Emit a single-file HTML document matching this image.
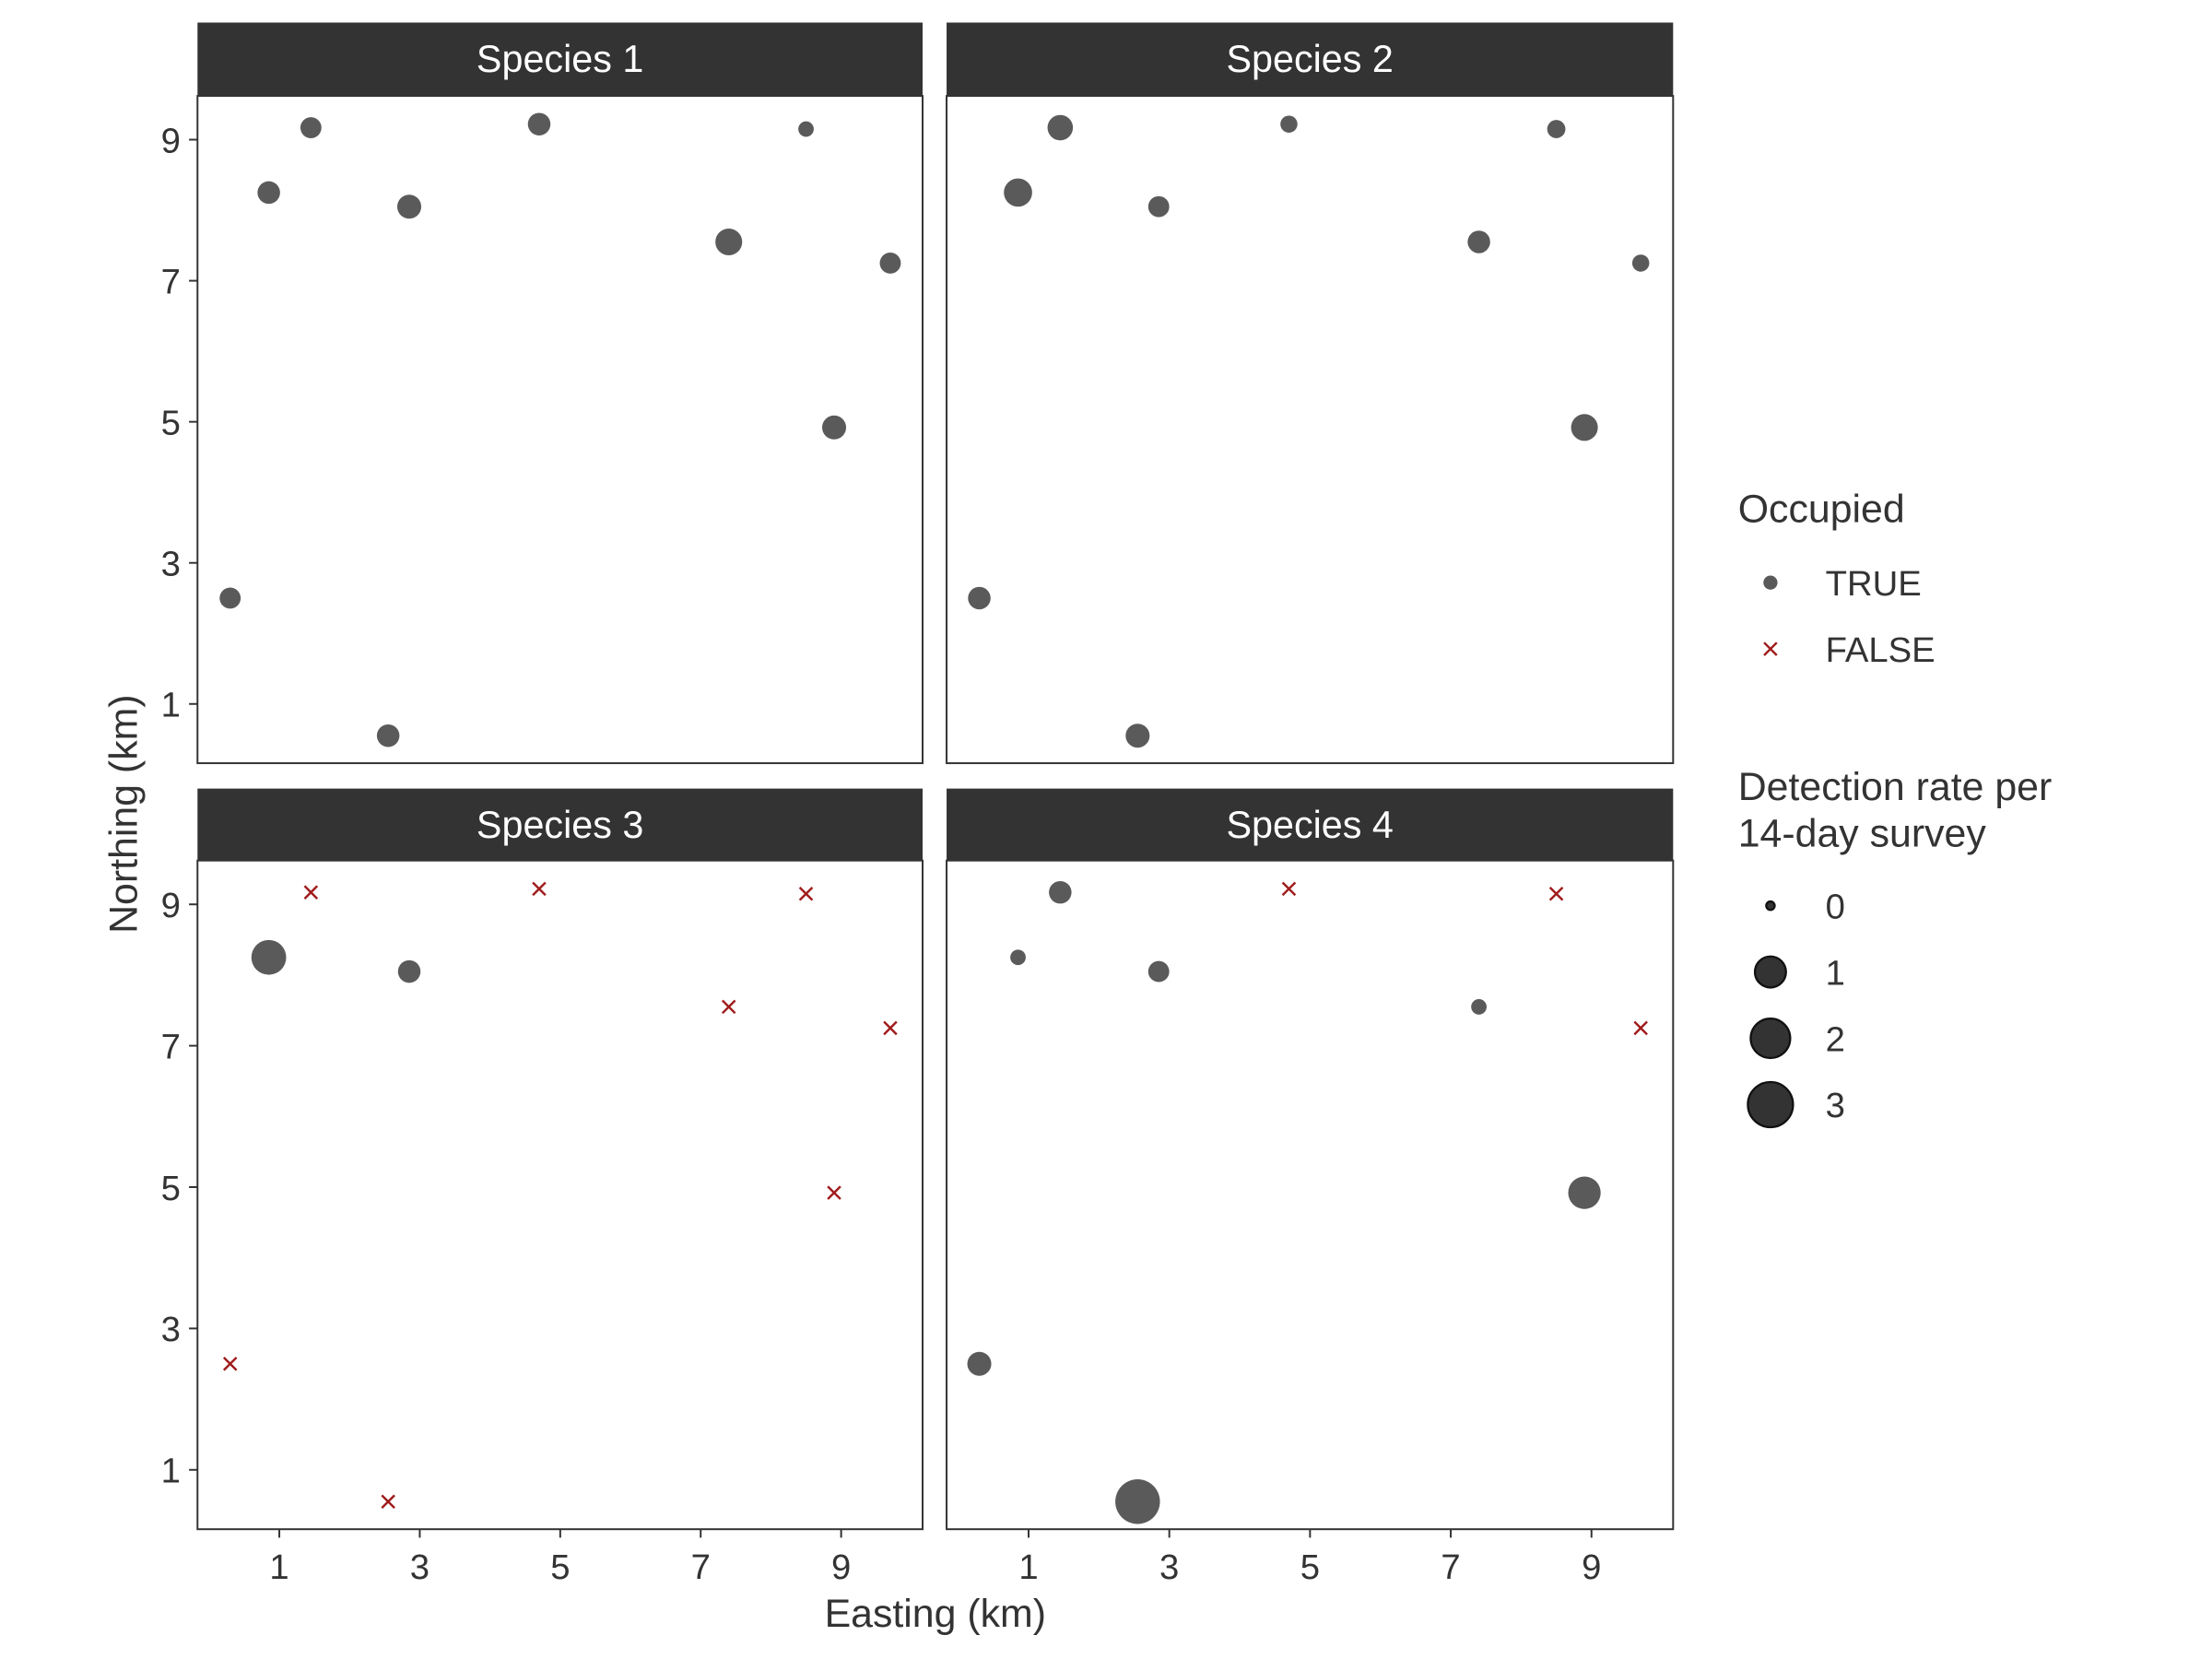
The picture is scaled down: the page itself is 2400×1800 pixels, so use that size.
<!DOCTYPE html>
<html><head><meta charset="utf-8"><style>
html,body{margin:0;padding:0;background:#fff}
svg{display:block}
text{font-family:"Liberation Sans Narrow","Liberation Sans",sans-serif}
</style></head><body>
<svg id="chart" width="2400" height="1800" viewBox="0 0 1568 1176" xmlns="http://www.w3.org/2000/svg">
<g id="root"></g>
</svg>
<script>
// ---- data ----
const easting = [0.3, 0.85, 1.45, 2.55, 2.85, 4.7, 7.4, 8.5, 8.9, 9.7];
const northing = [2.5, 8.25, 9.17, 0.55, 8.05, 9.22, 7.55, 9.15, 4.92, 7.25];
const speciesNames = ["Species 1", "Species 2", "Species 3", "Species 4"];
const rateSp1 = [0.31, 0.375, 0.31, 0.375, 0.44, 0.375, 0.58, 0.11, 0.44, 0.31];
const rateSp2 = [0.375, 0.66, 0.51, 0.44, 0.31, 0.16, 0.375, 0.2, 0.58, 0.16];
const rateSp3 = [0, 1.1, 0, 0, 0.375, 0, 0, 0, 0, 0];
const rateSp4 = [0.44, 0.11, 0.375, 2.4, 0.31, 0, 0.11, 0, 0.91, 0];
const occSp1 = [1,1,1,1,1,1,1,1,1,1];
const occSp2 = [1,1,1,1,1,1,1,1,1,1];
const occSp3 = [0,1,0,0,1,0,0,0,0,0];
const occSp4 = [1,1,1,1,1,0,1,0,1,0];
const xTicks = [1, 3, 5, 7, 9];
const yTicks = [1, 3, 5, 7, 9];
const sizeBreaks = [0, 1, 2, 3];
const sizeRadii = [4, 12, 15, 17];

const rates = [rateSp1, rateSp2, rateSp3, rateSp4];
const occ = [occSp1, occSp2, occSp3, occSp4];
const NS = "http://www.w3.org/2000/svg";
const root = document.getElementById("root");
function mk(tag, attrs, parent, txt) {
  const e = document.createElementNS(NS, tag);
  for (const k in attrs) e.setAttribute(k, attrs[k]);
  if (txt !== undefined) e.textContent = txt;
  (parent || root).appendChild(e);
  return e;
}
function rOf(v) {
  for (let i = 0; i < sizeBreaks.length - 1; i++) {
    if (v <= sizeBreaks[i + 1] || i === sizeBreaks.length - 2) {
      const t = (v - sizeBreaks[i]) / (sizeBreaks[i + 1] - sizeBreaks[i]);
      const a = sizeRadii[i] ** 2 + t * (sizeRadii[i + 1] ** 2 - sizeRadii[i] ** 2);
      return Math.sqrt(Math.max(a, 1));
    }
  }
}
const XMIN = -0.165, XMAX = 10.16, YMIN = 0.16, YMAX = 9.62;
const panels = [
  {x0: 140, x1: 654, s0: 16, y0: 68, y1: 541},
  {x0: 671, x1: 1186, s0: 16, y0: 68, y1: 541},
  {x0: 140, x1: 654, s0: 559, y0: 610, y1: 1084},
  {x0: 671, x1: 1186, s0: 559, y0: 610, y1: 1084}
];
panels.forEach((p, i) => {
  const g = mk("g", {});
  
  
  const sx = v => p.x0 + (v - XMIN) / (XMAX - XMIN) * (p.x1 - p.x0);
  const sy = v => p.y1 - (v - YMIN) / (YMAX - YMIN) * (p.y1 - p.y0);
  const strip = mk("rect", {x: p.x0, y: p.s0, width: p.x1 - p.x0, height: p.y0 - p.s0, fill: "#333333"}, g);
  
  
  const st = mk("text", {x: (p.x0 + p.x1) / 2, y: p.s0 + 35, "text-anchor": "middle", fill: "#fff", "font-size": 27}, g, speciesNames[i]);
  
  
  const bg = mk("rect", {x: p.x0, y: p.y0, width: p.x1 - p.x0, height: p.y1 - p.y0, fill: "#fff", stroke: "#333", "stroke-width": 1.3}, g);
  
  
  for (let k = 0; k < easting.length; k++) {
    const cx = sx(easting[k]), cy = sy(northing[k]);
    if (occ[i][k]) {
      const c = mk("circle", {cx: cx, cy: cy, r: rOf(rates[i][k]), fill: "#5a5a5a"}, g);
      
      
    } else {
      const d = 4.5;
      const x = mk("path", {d: `M${cx-d},${cy-d}L${cx+d},${cy+d}M${cx-d},${cy+d}L${cx+d},${cy-d}`, stroke: "#a01c1c", "stroke-width": 1.6, fill: "none"}, g);
      
      
    }
  }
  if (i === 0 || i === 2) {
    yTicks.forEach(t => {
      const y = sy(t);
      const tk = mk("line", {x1: p.x0 - 6, x2: p.x0, y1: y, y2: y, stroke: "#333", "stroke-width": 1.3}, g);
      
      
      const tl = mk("text", {x: p.x0 - 12, y: y + 9, "text-anchor": "end", fill: "#333", "font-size": 25}, g, String(t));
      
      
    });
  }
  if (i >= 2) {
    xTicks.forEach(t => {
      const x = sx(t);
      const tk = mk("line", {x1: x, x2: x, y1: p.y1, y2: p.y1 + 6, stroke: "#333", "stroke-width": 1.3}, g);
      
      
      const tl = mk("text", {x: x, y: p.y1 + 35, "text-anchor": "middle", fill: "#333", "font-size": 25}, g, String(t));
      
      
    });
  }
});
const xt = mk("text", {x: 663, y: 1153, "text-anchor": "middle", fill: "#333", "font-size": 28}, root, "Easting (km)");


const yt = mk("text", {x: 0, y: 0, transform: "translate(97,577) rotate(-90)", "text-anchor": "middle", fill: "#333", "font-size": 28}, root, "Northing (km)");



const lg = mk("g", {});


const lt1 = mk("text", {x: 1232, y: 370, fill: "#333", "font-size": 28}, lg, "Occupied");


const lp = mk("circle", {cx: 1255, cy: 413, r: 5, fill: "#5a5a5a"}, lg);


const lpt = mk("text", {x: 1294, y: 422, fill: "#333", "font-size": 25}, lg, "TRUE");


const lx = mk("path", {d: "M1250.5,455.5L1259.5,464.5M1250.5,464.5L1259.5,455.5", stroke: "#a01c1c", "stroke-width": 1.6}, lg);


const lxt = mk("text", {x: 1294, y: 469, fill: "#333", "font-size": 25}, lg, "FALSE");


const lt2 = mk("text", {x: 1232, y: 567, fill: "#333", "font-size": 28}, lg, "Detection rate per");


const lt3 = mk("text", {x: 1232, y: 600, fill: "#333", "font-size": 28}, lg, "14-day survey");


sizeBreaks.forEach((b, k) => {
  const y = 642 + k * 47;
  const c = mk("circle", {cx: 1255, cy: y, r: rOf(b) - 1, fill: "#333", stroke: "#111", "stroke-width": 1.5}, lg);
  
  
  const t = mk("text", {x: 1294, y: y + 9, fill: "#333", "font-size": 25}, lg, String(b));
  
  
});
</script>
</body></html>
